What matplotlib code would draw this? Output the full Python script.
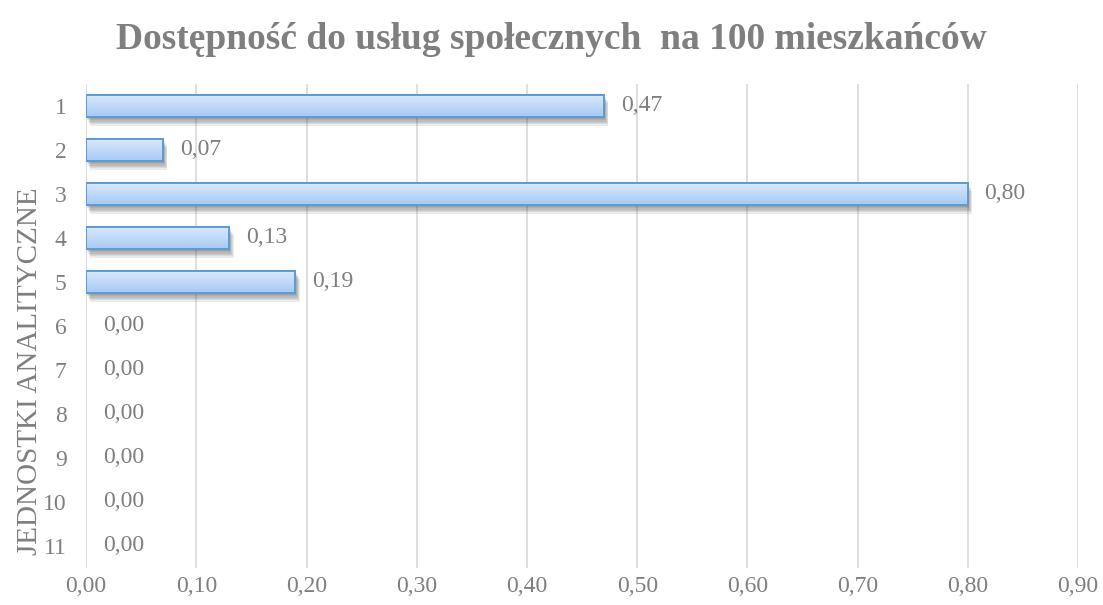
import numpy as np
import matplotlib
matplotlib.use("Agg")
import matplotlib.pyplot as plt
import matplotlib.patheffects as pe

units = ["1", "2", "3", "4", "5", "6", "7", "8", "9", "10", "11"]
values = [0.47, 0.07, 0.80, 0.13, 0.19, 0.00, 0.00, 0.00, 0.00, 0.00, 0.00]
xticks = [0.0, 0.1, 0.2, 0.3, 0.4, 0.5, 0.6, 0.7, 0.8, 0.9]

title = "Dostępność do usług społecznych  na 100 mieszkańców"
ylabel = "JEDNOSTKI ANALITYCZNE"

grey = "#7f7f7f"
plt.rcParams["font.family"] = ["Liberation Serif", "DejaVu Serif"]

fig = plt.figure(figsize=(11.03, 6.05), dpi=100)
ax = fig.add_axes([0.078, 0.0612, 0.8995, 0.8000])

ypos = np.arange(len(units))
bars = ax.barh(ypos, values, height=0.52, color="#c4dcf8",
               edgecolor="#5b9bd5", linewidth=1.4, zorder=3)

# soft shadow: a few stacked faint offsets
shadow = [pe.SimplePatchShadow(offset=(o * 0.5, -o), shadow_rgbFace="#404040", alpha=0.1)
          for o in (1, 2, 3, 4, 5, 6)]

grad = np.linspace(0, 1, 64).reshape(-1, 1)
cmap = matplotlib.colors.LinearSegmentedColormap.from_list(
    "bluegrad", ["#dceafc", "#a6c9f4"])
for b, v in zip(bars, values):
    if v <= 0:
        b.set_linewidth(0)
        b.set_facecolor("none")
        continue
    b.set_path_effects(shadow + [pe.Normal()])
    x0, y0 = b.get_x(), b.get_y()
    im = ax.imshow(grad, extent=(x0, x0 + b.get_width(), y0 + b.get_height(), y0),
                   cmap=cmap, aspect="auto", zorder=3.5, interpolation="bilinear")
    im.set_clip_path(b)
    ax.add_patch(plt.Rectangle((x0, y0), b.get_width(), b.get_height(),
                               fill=False, edgecolor="#5b9bd5", linewidth=1.4, zorder=4))

for y, v in zip(ypos, values):
    ax.annotate(f"{v:.2f}".replace(".", ","), (v, y), xytext=(12, 0),
                textcoords="offset points", va="center", ha="left",
                fontsize=17, color=grey, zorder=5)

ax.set_xlim(0, 0.9)
ax.set_ylim(len(units) - 0.5, -0.5)
ax.set_xticks(xticks)
ax.set_xticklabels([f"{t:.2f}".replace(".", ",") for t in xticks])
ax.set_yticks(ypos)
ax.set_yticklabels(units)
ax.tick_params(axis="x", length=0, pad=6, labelsize=17, labelcolor=grey)
ax.tick_params(axis="y", length=0, pad=14, labelsize=17, labelcolor=grey)
ax.grid(axis="x", color="#d9d9d9", linewidth=1.2, zorder=0)
ax.set_axisbelow(True)
for s in ax.spines.values():
    s.set_visible(False)

fig.text(0.027, 0.387, ylabel, rotation=90, ha="center", va="center",
         fontsize=21, color=grey)
fig.text(0.5, 0.935, title, ha="center", va="center", fontsize=27,
         fontweight="bold", color=grey)

fig.savefig("out.png", dpi=100)
